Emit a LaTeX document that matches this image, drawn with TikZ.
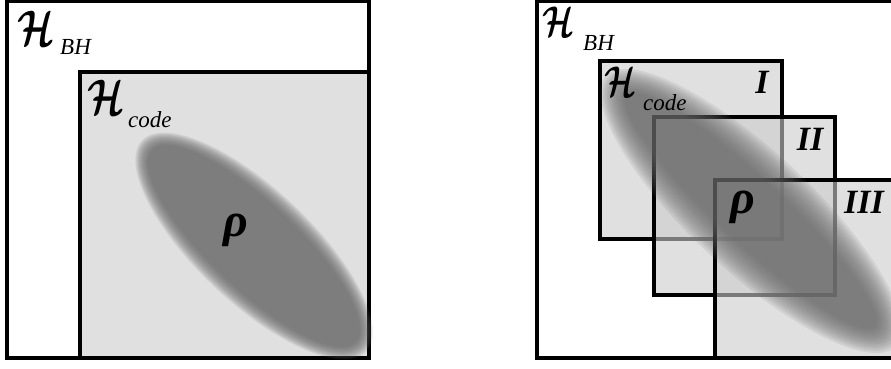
\RequirePackage{fix-cm}
\documentclass[tikz,border=0pt]{standalone}
\usepackage{bm}
\usepackage{fontspec}
\setmainfont{Liberation Serif}

\begin{document}
\begin{tikzpicture}[x=1pt, y=-1pt,
  frame/.style={line width=3.2pt, line join=miter},
  subspace/.style={frame, fill=gray!40, fill opacity=0.6},
  blob/.style={fill=black!60, fill opacity=0.12},
  bigH/.style={inner sep=0pt, anchor=base west, font=\fontsize{50}{50}\selectfont},
  smallH/.style={bigH, font=\fontsize{43}{43}\selectfont},
  subtext/.style={inner sep=0pt, anchor=base west, font=\fontsize{23}{23}\selectfont\itshape},
  rholabel/.style={inner sep=0pt, font=\fontsize{48}{48}\selectfont\bfseries\itshape},
  roman/.style={inner sep=0pt, font=\fontsize{34}{34}\selectfont\bfseries\itshape}]
  \useasboundingbox (0,0) rectangle (891,369);
  \clip (0,0) rectangle (891,369);

  % left: code subspace inside the black hole space
  \draw[frame, fill=white] (7,1) rectangle (369,358);
  \draw[subspace] (80,72) rectangle (369,358);
  \foreach \k in {0,...,11} {
    \pgfmathsetmacro{\d}{7-14*\k/11}
    \fill[blob, rotate around={-43.3:(254,246)}] (254,246) ellipse ({147+\d} and {50+\d});
  }
  \node[bigH] (hbh_left) at (17,46) {\scalebox{0.75}[1]{$\bm{\mathcal{H}}$}};
  \node[subtext] (bh_left) at (60,55) {BH};
  \node[bigH] (hcode_left) at (87,114) {\scalebox{0.75}[1]{$\bm{\mathcal{H}}$}};
  \node[subtext] (code_left) at (128,127) {code};
  \node[rholabel] (rho_left) at (236,230) {ρ};

  % right: three overlapping code subspaces
  \draw[frame, fill=white] (537,1) rectangle (896,358);
  \draw[subspace] (600,61) rectangle (782,239);
  \draw[subspace] (654,117) rectangle (835,295);
  \draw[subspace] (715,180) rectangle (896,358);
  \foreach \k in {0,...,11} {
    \pgfmathsetmacro{\d}{14-28*\k/11}
    \fill[blob, rotate around={-43:(751,211)}] (751,211) ellipse ({184+\d} and {46+\d});
  }
  \node[smallH] (hbh_right) at (542,37) {\scalebox{0.75}[1]{$\bm{\mathcal{H}}$}};
  \node[subtext] (bh_right) at (583,51) {BH};
  \node[smallH] (hcode_right) at (604,96) {\scalebox{0.75}[1]{$\bm{\mathcal{H}}$}};
  \node[subtext] (code_right) at (643,110) {code};
  \node[roman] (sub_one) at (762,82) {I};
  \node[roman] (sub_two) at (810,139) {II};
  \node[roman] (sub_three) at (864,202) {III};
  \node[rholabel] (rho_right) at (743,207) {ρ};
\end{tikzpicture}
\end{document}
